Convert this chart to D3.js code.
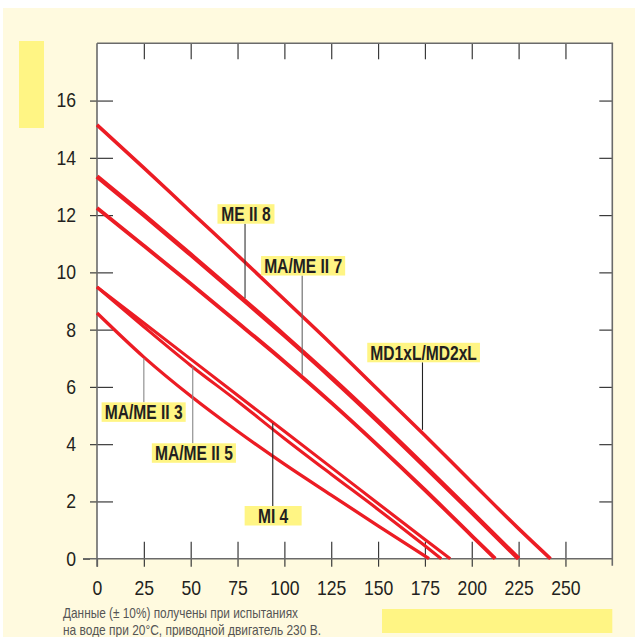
<!DOCTYPE html>
<html>
<head>
<meta charset="utf-8">
<script src="https://cdn.jsdelivr.net/npm/d3@7"></script>
<style>
  body { margin: 0; background: #fff; }
  svg { display: block; }
</style>
</head>
<body>
<div id="chart"></div>
<script>
// flow (x) and head (y) ticks
const flowTicks = [0, 25, 50, 75, 100, 125, 150, 175, 200, 225, 250];
const headTicks = [0, 2, 4, 6, 8, 10, 12, 14, 16];

// pump curves: flow -> head
const mdFlow = [0, 25, 50, 75, 100, 125, 150, 175, 200, 225, 242];
const mdHead = [15.15, 13.65, 12.12, 10.6, 9.05, 7.5, 5.9, 4.3, 2.67, 1.05, 0];

const me8Flow = [0, 25, 50, 75, 100, 125, 150, 175, 200, 225];
const me8Head = [13.35, 12.0, 10.62, 9.22, 7.8, 6.33, 4.8, 3.22, 1.62, 0];

const me7Flow = [0, 25, 50, 75, 100, 125, 150, 175, 200, 212.5];
const me7Head = [12.25, 10.93, 9.6, 8.25, 6.88, 5.45, 3.95, 2.4, 0.8, 0];

const mi4Flow = [0, 25, 50, 75, 100, 125, 150, 175, 188.5];
const mi4Head = [9.49, 8.23, 6.97, 5.71, 4.45, 3.19, 1.93, 0.67, 0];

const me5Flow = [0, 25, 50, 75, 100, 125, 150, 175, 183.7];
const me5Head = [9.49, 8.1, 6.75, 5.5, 4.2, 2.95, 1.72, 0.45, 0];

const me3Flow = [0, 25, 50, 75, 100, 125, 150, 177.2];
const me3Head = [8.58, 7.04, 5.68, 4.45, 3.3, 2.22, 1.15, 0];

// label boxes (centre in data units) and leader lines
const labelNames = ["ME II 8", "MA/ME II 7", "MD1xL/MD2xL", "MA/ME II 3", "MA/ME II 5", "MI 4"];
const labelFlow = [79.5, 110, 174.3, 24.9, 51.7, 94];
const labelHead = [12.04, 10.23, 7.2, 5.12, 3.69, 1.5];
const leaderFlow = [79, 109.5, 173.7, 25, 51.1, 93.8];
const leaderHead = [9.1, 6.42, 4.5, 7.0, 6.71, 4.73];

const footer = [
    "Данные (± 10%) получены при испытаниях",
    "на воде при 20°C,  приводной двигатель 230 В."
];

const width = 635, height = 637;
const plotLeft = 97, plotRight = 612.3, plotTop = 43.3, plotBottom = 558.7;

const svg = d3.select("#chart").append("svg")
    .attr("width", width)
    .attr("height", height);

// cream page background
svg.append("rect")
    .attr("x", 3).attr("y", 8)
    .attr("width", width - 3).attr("height", height - 8)
    .attr("fill", "#fffadf");

// yellow placeholders for the axis titles
svg.append("rect")
    .attr("x", 19).attr("y", 41).attr("width", 25).attr("height", 87)
    .attr("fill", "#fff584");
svg.append("rect")
    .attr("x", 382).attr("y", 609).attr("width", plotRight - 382).attr("height", 24)
    .attr("fill", "#fff584");

// plot area
svg.append("rect")
    .attr("x", plotLeft).attr("y", plotTop)
    .attr("width", plotRight - plotLeft).attr("height", plotBottom - plotTop)
    .attr("fill", "#fff");

const x = d3.scaleLinear().domain([0, 275]).range([plotLeft, plotRight]);
const y = d3.scaleLinear().domain([0, 18]).range([plotBottom, plotTop]);

// no condensed font installed, so squeeze Liberation Sans horizontally
const baseFont = "'Liberation Sans', Arial, sans-serif";
function condense(sel, sx) {
    sel.each(function () {
        const t = d3.select(this);
        const x0 = +t.attr("x") || 0;
        t.attr("x", x0 / sx).attr("transform", `scale(${sx},1)`);
    });
}

// bottom axis: ticks go 17 up and 8 down
const gx = svg.append("g")
    .attr("transform", `translate(0,${plotBottom})`)
    .call(d3.axisBottom(x).tickValues(flowTicks).tickSize(8).tickPadding(14).tickSizeOuter(0));
gx.selectAll(".tick line").attr("y1", d => d === 0 ? 0 : -17);
gx.select(".domain").remove();

// left axis: ticks go 7 out and 16 in
const gy = svg.append("g")
    .attr("transform", `translate(${plotLeft},0)`)
    .call(d3.axisLeft(y).tickValues(headTicks).tickSize(7).tickPadding(14).tickSizeOuter(0));
gy.selectAll(".tick line").attr("x2", d => d === 0 ? -14 : 16).attr("x1", -7);
gy.select(".domain").remove();

// top and right axes: inner ticks only
const gt = svg.append("g")
    .attr("transform", `translate(0,${plotTop})`)
    .call(d3.axisTop(x).tickValues(flowTicks.filter(d => d > 0)).tickSize(-16).tickFormat("").tickSizeOuter(0));
gt.select(".domain").remove();

const gr = svg.append("g")
    .attr("transform", `translate(${plotRight},0)`)
    .call(d3.axisRight(y).tickValues(headTicks.filter(d => d > 0)).tickSize(-13).tickFormat("").tickSizeOuter(0));
gr.select(".domain").remove();

svg.selectAll(".tick line").attr("stroke", "#3a3a3a").attr("stroke-width", 1.2);
svg.selectAll(".tick text")
    .attr("fill", "#231f20")
    .attr("font-family", baseFont)
    .attr("font-size", 20)
    .call(condense, 0.88);

// frame of the plot
const frame = svg.append("g").attr("stroke", "#6a6a6a").attr("stroke-width", 1.6).attr("fill", "none");
frame.append("line").attr("x1", x(0) - 14).attr("x2", plotRight).attr("y1", plotBottom).attr("y2", plotBottom);
frame.append("line").attr("x1", plotLeft).attr("x2", plotLeft).attr("y1", plotTop).attr("y2", plotBottom + 8);
frame.append("line").attr("x1", plotLeft).attr("x2", plotRight + 0.8).attr("y1", plotTop).attr("y2", plotTop);
frame.append("line").attr("x1", plotRight).attr("x2", plotRight).attr("y1", plotTop).attr("y2", plotBottom + 7);

// curves
const curves = [
    { flow: mdFlow, head: mdHead, w: 3.5 },
    { flow: me8Flow, head: me8Head, w: 4.6 },
    { flow: me7Flow, head: me7Head, w: 3.9 },
    { flow: mi4Flow, head: mi4Head, w: 3.1 },
    { flow: me5Flow, head: me5Head, w: 3.1 },
    { flow: me3Flow, head: me3Head, w: 3.3 }
];

const line = d3.line()
    .x(d => x(d[0]))
    .y(d => y(d[1]))
    .curve(d3.curveMonotoneX);

svg.append("g")
    .selectAll("path")
    .data(curves)
    .enter().append("path")
    .attr("d", c => line(d3.zip(c.flow, c.head)))
    .attr("fill", "none")
    .attr("stroke", "#ec1c24")
    .attr("stroke-width", c => c.w);

// labels with leader lines
const leaderColors = ["#333", "#666", "#222", "#888", "#888", "#222"];
const boxH = 19.5;
const labelSx = 0.8;

labelNames.forEach((name, i) => {
    const g = svg.append("g");
    const cx = x(labelFlow[i]), cy = y(labelHead[i]);
    const box = g.append("rect").attr("fill", "#fff584");
    const t = g.append("text")
        .attr("x", cx).attr("y", cy)
        .attr("text-anchor", "middle")
        .attr("dy", "0.37em")
        .attr("fill", "#231f20")
        .attr("font-family", baseFont)
        .attr("font-weight", "bold")
        .attr("font-size", 19.5)
        .text(name)
        .call(condense, labelSx);
    const bw = Math.max(t.node().getBBox().width * labelSx + 6, 57);
    box.attr("x", cx - bw / 2).attr("y", cy - boxH / 2)
        .attr("width", bw).attr("height", boxH);

    const goesDown = leaderHead[i] < labelHead[i];
    g.insert("line", "rect")
        .attr("x1", x(leaderFlow[i])).attr("x2", x(leaderFlow[i]))
        .attr("y1", goesDown ? cy + boxH / 2 : cy - boxH / 2)
        .attr("y2", y(leaderHead[i]))
        .attr("stroke", leaderColors[i])
        .attr("stroke-width", 1.1);
});

// footnote
const footLen = [235, 258];
svg.append("g")
    .selectAll("text")
    .data(footer)
    .enter().append("text")
    .attr("x", 63)
    .attr("y", (d, i) => 617.5 + i * 17)
    .attr("fill", "#555")
    .attr("font-family", baseFont)
    .attr("font-size", 14.5)
    .attr("textLength", (d, i) => footLen[i])
    .attr("lengthAdjust", "spacingAndGlyphs")
    .text(d => d);
</script>
</body>
</html>
